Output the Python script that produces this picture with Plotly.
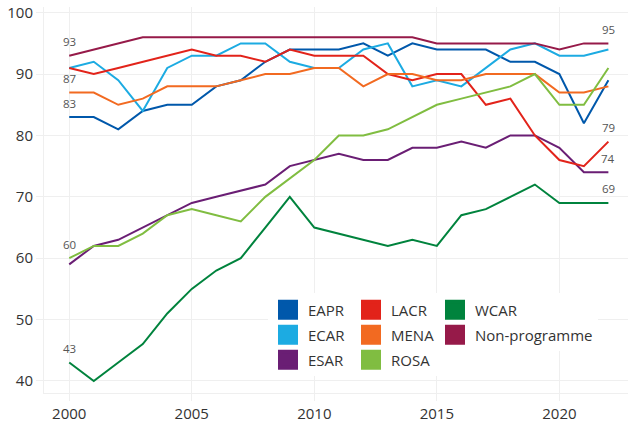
import plotly.graph_objects as go

years = list(range(2000, 2023))

EAPR = [83, 83, 81, 84, 85, 85, 88, 89, 92, 94, 94, 94, 95, 93, 95, 94, 94, 94, 92, 92, 90, 82, 89]
ECAR = [91, 92, 89, 84, 91, 93, 93, 95, 95, 92, 91, 91, 94, 95, 88, 89, 88, 91, 94, 95, 93, 93, 94]
ESAR = [59, 62, 63, 65, 67, 69, 70, 71, 72, 75, 76, 77, 76, 76, 78, 78, 79, 78, 80, 80, 78, 74, 74]
LACR = [91, 90, 91, 92, 93, 94, 93, 93, 92, 94, 93, 93, 93, 90, 89, 90, 90, 85, 86, 80, 76, 75, 79]
MENA = [87, 87, 85, 86, 88, 88, 88, 89, 90, 90, 91, 91, 88, 90, 90, 89, 89, 90, 90, 90, 87, 87, 88]
ROSA = [60, 62, 62, 64, 67, 68, 67, 66, 70, 73, 76, 80, 80, 81, 83, 85, 86, 87, 88, 90, 85, 85, 91]
WCAR = [43, 40, 43, 46, 51, 55, 58, 60, 65, 70, 65, 64, 63, 62, 63, 62, 67, 68, 70, 72, 69, 69, 69]
NONPROG = [93, 94, 95, 96, 96, 96, 96, 96, 96, 96, 96, 96, 96, 96, 96, 95, 95, 95, 95, 95, 94, 95, 95]

series_names = ["EAPR", "ECAR", "ESAR", "LACR", "MENA", "ROSA", "WCAR", "Non-programme"]
series_values = [EAPR, ECAR, ESAR, LACR, MENA, ROSA, WCAR, NONPROG]
colors = ["#0058AB", "#1CABE2", "#6A1E74", "#E2231A", "#F26A21", "#80BD41", "#00833D", "#961A49"]
legend_ids = ["legend", "legend", "legend", "legend2", "legend2", "legend2", "legend3", "legend3"]

# series whose first / last values are labelled
first_labelled = ["Non-programme", "MENA", "EAPR", "ROSA", "WCAR"]
last_labelled = ["Non-programme", "LACR", "ESAR", "WCAR"]

y_ticks = [40, 50, 60, 70, 80, 90, 100]
x_ticks = [2000, 2005, 2010, 2015, 2020]

FONT = "Open Sans"

fig = go.Figure()

for name, vals, col in zip(series_names, series_values, colors):
    fig.add_trace(go.Scatter(x=years, y=vals, mode="lines", name=name,
                             line=dict(color=col, width=2), showlegend=False))

for name, col, lg in zip(series_names, colors, legend_ids):
    fig.add_trace(go.Scatter(x=[None], y=[None], mode="markers", name=name,
                             marker=dict(symbol="square", size=16, color=col,
                                         line=dict(color=col, width=4)),
                             legend=lg, legendgroup=name, showlegend=True))

annotations = []
for name, vals in zip(series_names, series_values):
    if name in first_labelled:
        annotations.append(dict(x=years[0], y=vals[0], text=str(vals[0]), showarrow=False,
                                yshift=14, font=dict(family=FONT, size=11.5, color="#555555")))
    if name in last_labelled:
        annotations.append(dict(x=years[-1], y=vals[-1], text=str(vals[-1]), showarrow=False,
                                yshift=14, font=dict(family=FONT, size=11.5, color="#555555")))

grid = "#efefef"
legend_common = dict(orientation="v", bgcolor="rgba(255,255,255,1)", borderwidth=0,
                     font=dict(family=FONT, size=15, color="#333333"),
                     yanchor="top", xanchor="left", tracegroupgap=2.5,
                     traceorder="grouped", itemclick=False)

fig.update_layout(
    width=628, height=426,
    margin=dict(l=44, r=0, t=7, b=33, autoexpand=False),
    paper_bgcolor="white", plot_bgcolor="white",
    font=dict(family=FONT, size=15, color="#333333"),
    xaxis=dict(range=[1998.97, 2022.8], tickvals=x_ticks, showgrid=True, gridcolor=grid,
               gridwidth=1, showline=True, linecolor=grid, linewidth=1, zeroline=False,
               ticks="outside", ticklen=7, tickcolor=grid, automargin=False,
               tickfont=dict(family=FONT, size=15, color="#333333")),
    yaxis=dict(range=[38.04, 100.93], tickvals=y_ticks, showgrid=True, gridcolor=grid,
               gridwidth=1, showline=True, linecolor=grid, linewidth=1, zeroline=False,
               ticks="outside", ticklen=7, tickcolor=grid, automargin=False,
               tickfont=dict(family=FONT, size=15, color="#333333")),
    legend=dict(x=0.3836, y=0.258, **legend_common),
    legend2=dict(x=0.5257, y=0.258, **legend_common),
    legend3=dict(x=0.6695, y=0.258, **legend_common),
    annotations=annotations,
    showlegend=True,
)

fig.write_html("out.html", config={"displayModeBar": False},
               post_script="document.body.style.margin='0';document.body.style.padding='0';")
